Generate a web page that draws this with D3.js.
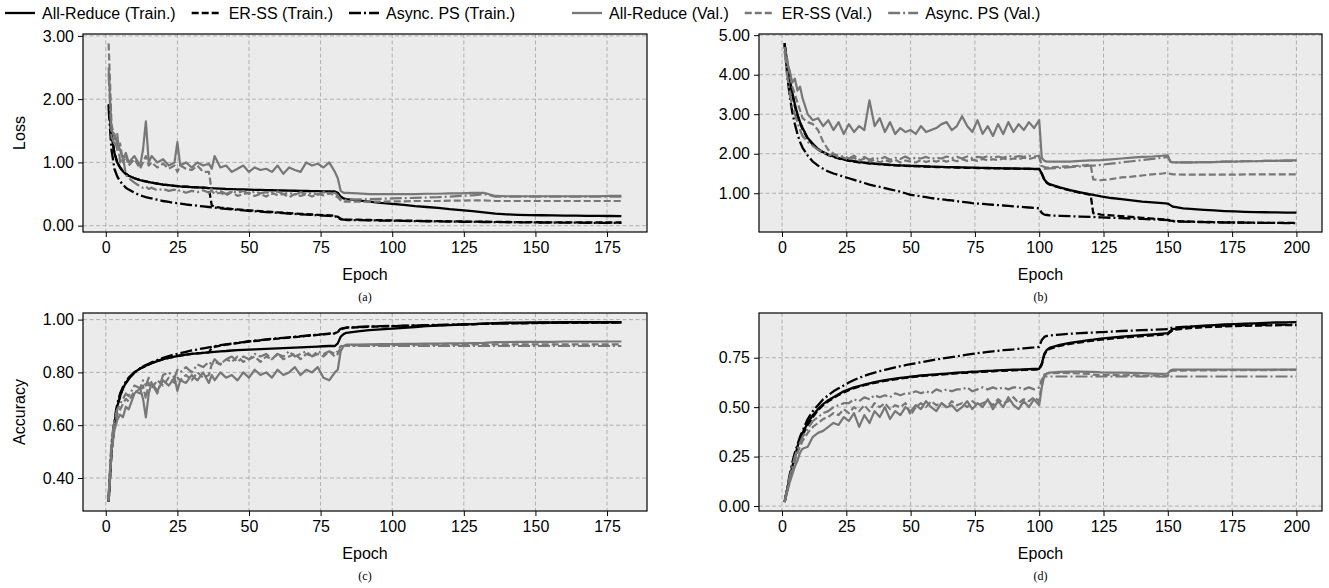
<!DOCTYPE html>
<html><head><meta charset="utf-8">
<script src="https://cdn.jsdelivr.net/npm/d3@7"></script>
<style>body{margin:0;background:#fff}svg{display:block}text{font-family:"Liberation Sans",Arial,sans-serif}</style>
</head><body><svg id="c" width="1329" height="588"></svg>
<script>
// ---------- epochs ----------
const EA = [1,2,3,4,5,6,7,8,
 10,12,13,14,15,16,18,20,22,24,25,26,28,30,32,34,36,
 37,38,40,42,44,46,48,50,52,54,56,58,60,62,64,66,68,70,72,74,76,78,80,
 81,82,83,84,
 88,92,96,100,104,108,112,116,120,124,128,132,
 136,140,144,148,152,156,160,164,168,172,176,180];
const EB = [1,2,3,4,5,6,7,8,
 10,12,14,16,18,20,22,24,26,28,30,32,34,36,38,40,
 42,44,46,48,50,52,54,56,58,60,62,64,66,68,70,
 72,74,76,78,80,82,84,86,88,90,92,94,96,98,100,
 101,102,103,104,108,112,116,120,121,
 124,128,132,136,140,144,148,150,151,152,
 156,160,164,168,172,176,180,184,188,192,196,200];

// ---------- (a) loss, 180 epochs ----------
const aTrainAR = [1.92,1.45,1.15,1.0,0.92,0.86,0.82,0.79,
 0.75,0.72,0.71,0.70,0.69,0.68,0.665,0.65,0.64,0.63,0.625,0.62,0.615,0.61,0.605,0.60,0.595,
 0.593,0.59,0.585,0.58,0.578,0.575,0.572,0.57,0.567,0.565,0.562,0.56,0.558,0.556,0.554,0.552,0.55,0.548,0.546,0.545,0.543,0.542,0.54,
 0.52,0.46,0.43,0.42,
 0.40,0.38,0.36,0.345,0.33,0.31,0.295,0.28,0.26,0.245,0.23,0.21,
 0.19,0.178,0.172,0.168,0.165,0.162,0.16,0.158,0.156,0.155,0.153,0.152];
const aTrainER = [1.9,1.45,1.15,1.0,0.92,0.86,0.82,0.79,
 0.75,0.72,0.71,0.70,0.69,0.68,0.665,0.65,0.64,0.63,0.625,0.62,0.615,0.61,0.605,0.60,0.595,
 0.32,0.3,0.285,0.275,0.265,0.258,0.25,0.243,0.236,0.23,0.222,0.217,0.21,0.204,0.197,0.192,0.187,0.182,0.177,0.172,0.167,0.162,0.157,
 0.14,0.11,0.1,0.098,
 0.095,0.09,0.086,0.083,0.08,0.077,0.074,0.072,0.069,0.066,0.064,0.062,
 0.06,0.058,0.057,0.055,0.054,0.053,0.052,0.051,0.05,0.05,0.05,0.05];
const aTrainPS = [1.85,1.2,0.9,0.78,0.7,0.65,0.6,0.57,
 0.52,0.48,0.465,0.45,0.44,0.43,0.41,0.39,0.375,0.36,0.355,0.35,0.335,0.325,0.315,0.305,0.295,
 0.29,0.285,0.275,0.265,0.257,0.25,0.243,0.235,0.228,0.222,0.215,0.21,0.203,0.197,0.19,0.185,0.18,0.175,0.17,0.165,0.16,0.155,0.15,
 0.13,0.1,0.095,0.09,
 0.088,0.085,0.08,0.078,0.075,0.072,0.07,0.068,0.065,0.062,0.06,0.058,
 0.056,0.055,0.053,0.052,0.05,0.05,0.048,0.047,0.046,0.045,0.045,0.045];
const aValAR = [2.5,1.5,1.45,1.3,1.2,1.05,1.15,1.0,
 1.1,0.95,1.2,1.65,1.0,1.1,1.0,1.05,0.95,1.0,1.32,0.95,1.0,0.92,1.0,0.95,0.98,
 0.9,1.1,0.92,0.95,0.85,0.9,0.95,0.85,0.92,0.88,0.9,0.85,0.95,0.82,0.92,0.88,0.85,1.0,0.95,0.98,0.92,1.0,0.85,
 0.75,0.55,0.52,0.52,
 0.51,0.5,0.5,0.5,0.5,0.5,0.505,0.505,0.51,0.51,0.52,0.52,
 0.47,0.465,0.465,0.465,0.465,0.465,0.465,0.465,0.465,0.465,0.47,0.47];
const aValER = [2.88,1.6,1.4,1.2,1.3,1.0,1.1,0.95,
 1.05,0.9,1.0,1.1,0.95,1.0,0.92,0.98,0.9,0.95,0.85,0.95,0.9,0.88,0.95,0.85,0.85,
 0.55,0.5,0.52,0.48,0.53,0.47,0.5,0.52,0.47,0.5,0.46,0.52,0.48,0.5,0.45,0.5,0.47,0.5,0.46,0.5,0.48,0.52,0.47,
 0.45,0.4,0.38,0.38,
 0.38,0.38,0.38,0.385,0.385,0.39,0.39,0.39,0.395,0.395,0.4,0.4,
 0.39,0.39,0.39,0.39,0.39,0.39,0.39,0.39,0.39,0.39,0.39,0.39];
const aValPS = [2.4,1.4,1.3,1.45,1.0,1.1,0.8,0.75,
 0.68,0.62,0.6,0.62,0.58,0.6,0.56,0.58,0.55,0.57,0.54,0.56,0.52,0.55,0.53,0.56,0.52,
 0.55,0.53,0.55,0.5,0.54,0.52,0.55,0.5,0.54,0.51,0.53,0.5,0.54,0.5,0.52,0.49,0.53,0.5,0.52,0.49,0.53,0.5,0.52,
 0.48,0.42,0.41,0.41,
 0.415,0.42,0.425,0.43,0.435,0.44,0.445,0.45,0.46,0.47,0.48,0.5,
 0.46,0.46,0.46,0.46,0.46,0.46,0.46,0.46,0.46,0.46,0.46,0.46];

// ---------- (b) loss, 200 epochs ----------
const bTrainAR = [4.8,4.3,3.9,3.55,3.25,3.0,2.8,2.65,
 2.4,2.25,2.12,2.04,1.98,1.93,1.89,1.86,1.83,1.81,1.79,1.775,1.76,1.75,1.74,1.73,
 1.72,1.71,1.705,1.7,1.695,1.69,1.685,1.68,1.675,1.67,1.667,1.664,1.66,1.657,1.654,
 1.65,1.648,1.645,1.642,1.64,1.637,1.634,1.632,1.63,1.627,1.625,1.622,1.62,1.617,1.615,
 1.5,1.35,1.27,1.23,1.15,1.08,1.02,0.97,0.96,
 0.92,0.88,0.85,0.82,0.79,0.77,0.75,0.74,0.7,0.66,
 0.62,0.6,0.58,0.565,0.55,0.54,0.53,0.525,0.52,0.515,0.51,0.51];
const bTrainER = [4.75,4.25,3.85,3.5,3.2,2.95,2.77,2.62,
 2.38,2.23,2.11,2.03,1.97,1.92,1.88,1.85,1.82,1.8,1.785,1.77,1.755,1.745,1.735,1.725,
 1.715,1.705,1.7,1.695,1.69,1.685,1.68,1.675,1.67,1.665,1.662,1.659,1.655,1.652,1.649,
 1.645,1.643,1.64,1.637,1.635,1.632,1.629,1.627,1.625,1.622,1.62,1.617,1.615,1.612,1.61,
 1.49,1.34,1.26,1.22,1.14,1.07,1.01,0.96,0.5,
 0.46,0.44,0.42,0.4,0.38,0.36,0.34,0.33,0.31,0.3,
 0.29,0.28,0.275,0.27,0.265,0.26,0.26,0.255,0.25,0.25,0.25,0.25];
const bTrainPS = [4.8,4.0,3.45,3.05,2.75,2.5,2.3,2.15,
 1.95,1.8,1.7,1.62,1.55,1.5,1.46,1.42,1.38,1.34,1.3,1.26,1.22,1.19,1.16,1.13,
 1.1,1.07,1.04,1.0,0.96,0.94,0.92,0.9,0.88,0.86,0.85,0.83,0.82,0.8,0.78,
 0.77,0.75,0.74,0.73,0.72,0.71,0.7,0.69,0.68,0.67,0.66,0.65,0.64,0.63,0.62,
 0.5,0.46,0.45,0.44,0.43,0.42,0.41,0.4,0.4,
 0.39,0.38,0.37,0.36,0.35,0.34,0.33,0.32,0.3,0.29,
 0.28,0.275,0.27,0.265,0.26,0.26,0.255,0.25,0.25,0.25,0.245,0.245];
const bValAR = [4.6,4.3,4.1,3.8,3.9,3.6,3.7,3.4,
 3.0,2.85,2.9,2.7,2.85,2.6,2.8,2.5,2.75,2.55,2.7,2.6,3.35,2.7,2.9,2.55,
 2.8,2.5,2.65,2.55,2.6,2.5,2.7,2.55,2.6,2.65,2.75,2.8,2.6,2.7,2.95,
 2.7,2.55,2.85,2.5,2.7,2.45,2.75,2.5,2.8,2.55,2.75,2.6,2.8,2.65,2.85,
 1.9,1.82,1.8,1.8,1.8,1.8,1.82,1.83,1.83,
 1.84,1.86,1.88,1.9,1.92,1.93,1.95,1.96,1.8,1.78,
 1.78,1.78,1.79,1.79,1.8,1.8,1.81,1.81,1.82,1.82,1.83,1.83];
const bValER = [4.7,4.4,4.0,3.7,3.5,3.3,3.1,2.9,
 2.8,2.75,2.6,2.3,2.1,2.0,1.95,1.9,1.85,1.9,1.82,1.88,1.8,1.85,1.78,1.84,
 1.8,1.85,1.78,1.83,1.8,1.78,1.84,1.79,1.83,1.8,1.84,1.8,1.85,1.81,1.86,
 1.82,1.85,1.82,1.87,1.83,1.86,1.84,1.88,1.85,1.88,1.86,1.9,1.87,1.9,1.92,
 1.7,1.66,1.65,1.65,1.67,1.68,1.7,1.72,1.35,
 1.33,1.36,1.4,1.42,1.45,1.48,1.5,1.52,1.49,1.48,
 1.47,1.47,1.47,1.47,1.47,1.47,1.48,1.48,1.48,1.48,1.48,1.48];
const bValPS = [4.6,4.0,3.5,3.2,3.0,2.8,2.6,2.45,
 2.3,2.2,2.1,2.05,1.95,2.0,1.9,1.95,1.88,1.95,1.85,1.92,1.85,1.9,1.86,1.92,
 1.85,1.9,1.87,1.93,1.86,1.9,1.88,1.92,1.87,1.9,1.88,1.93,1.89,1.92,1.88,
 1.93,1.89,1.92,1.9,1.94,1.9,1.93,1.9,1.95,1.91,1.94,1.92,1.95,1.93,1.95,
 1.65,1.62,1.62,1.63,1.64,1.66,1.68,1.7,1.7,
 1.72,1.75,1.78,1.81,1.84,1.87,1.9,1.92,1.8,1.78,
 1.78,1.78,1.79,1.79,1.8,1.8,1.81,1.81,1.82,1.82,1.82,1.82];

// ---------- (c) accuracy, 180 epochs ----------
const cTrainAR = [0.31,0.5,0.6,0.67,0.71,0.74,0.76,0.775,
 0.8,0.815,0.82,0.825,0.83,0.835,0.843,0.85,0.855,0.86,0.862,0.864,0.867,0.87,0.872,0.874,0.876,
 0.877,0.878,0.88,0.881,0.883,0.884,0.885,0.886,0.887,0.888,0.889,0.89,0.891,0.892,0.893,0.894,0.895,0.896,0.897,0.898,0.899,0.9,0.9,
 0.91,0.935,0.945,0.95,
 0.955,0.96,0.963,0.966,0.969,0.972,0.975,0.977,0.979,0.981,0.983,0.985,
 0.987,0.988,0.988,0.989,0.989,0.989,0.99,0.99,0.99,0.99,0.99,0.99];
const cTrainER = [0.31,0.5,0.6,0.67,0.71,0.74,0.76,0.775,
 0.8,0.815,0.82,0.825,0.83,0.835,0.843,0.85,0.855,0.86,0.862,0.864,0.867,0.87,0.872,0.874,0.876,
 0.893,0.897,0.901,0.905,0.908,0.911,0.914,0.917,0.919,0.921,0.924,0.926,0.928,0.93,0.932,0.934,0.936,0.938,0.94,0.942,0.944,0.946,0.948,
 0.953,0.963,0.967,0.969,
 0.971,0.973,0.974,0.975,0.976,0.977,0.978,0.979,0.98,0.981,0.982,0.984,
 0.985,0.986,0.986,0.987,0.987,0.988,0.988,0.988,0.989,0.989,0.989,0.989];
const cTrainPS = [0.33,0.52,0.62,0.68,0.72,0.745,0.765,0.78,
 0.8,0.815,0.822,0.828,0.833,0.838,0.847,0.855,0.862,0.868,0.87,0.873,0.878,0.883,0.887,0.891,0.895,
 0.897,0.899,0.903,0.906,0.909,0.912,0.915,0.918,0.92,0.922,0.925,0.927,0.929,0.931,0.933,0.935,0.937,0.939,0.941,0.943,0.945,0.947,0.949,
 0.955,0.965,0.968,0.97,
 0.972,0.974,0.975,0.976,0.977,0.978,0.979,0.98,0.981,0.982,0.983,0.984,
 0.985,0.986,0.987,0.987,0.988,0.988,0.989,0.989,0.99,0.99,0.99,0.99];
const cValAR = [0.31,0.5,0.58,0.62,0.64,0.63,0.67,0.66,
 0.72,0.74,0.7,0.63,0.72,0.76,0.73,0.77,0.75,0.78,0.73,0.77,0.76,0.79,0.77,0.8,0.76,
 0.79,0.77,0.8,0.78,0.79,0.77,0.8,0.78,0.81,0.79,0.8,0.78,0.81,0.79,0.8,0.82,0.79,0.81,0.8,0.82,0.78,0.77,0.8,
 0.81,0.88,0.9,0.905,
 0.905,0.906,0.907,0.907,0.908,0.908,0.909,0.909,0.91,0.91,0.911,0.912,
 0.915,0.915,0.916,0.916,0.916,0.916,0.917,0.917,0.917,0.917,0.917,0.917];
const cValER = [0.32,0.52,0.6,0.64,0.66,0.68,0.7,0.69,
 0.73,0.72,0.75,0.7,0.76,0.74,0.77,0.75,0.78,0.76,0.78,0.77,0.79,0.77,0.8,0.78,0.79,
 0.83,0.84,0.83,0.85,0.84,0.86,0.84,0.85,0.86,0.84,0.86,0.85,0.87,0.85,0.86,0.87,0.85,0.87,0.86,0.87,0.86,0.88,0.86,
 0.87,0.895,0.9,0.902,
 0.903,0.903,0.904,0.904,0.904,0.905,0.905,0.905,0.905,0.905,0.906,0.906,
 0.906,0.906,0.906,0.906,0.906,0.906,0.906,0.906,0.906,0.906,0.906,0.906];
const cValPS = [0.33,0.54,0.62,0.66,0.68,0.7,0.72,0.71,
 0.75,0.74,0.77,0.75,0.78,0.76,0.72,0.79,0.8,0.78,0.81,0.8,0.82,0.8,0.83,0.82,0.84,
 0.83,0.85,0.83,0.85,0.86,0.84,0.86,0.85,0.87,0.86,0.87,0.85,0.87,0.86,0.88,0.86,0.87,0.88,0.86,0.88,0.87,0.88,0.87,
 0.88,0.9,0.9,0.9,
 0.9,0.9,0.9,0.9,0.9,0.9,0.9,0.9,0.9,0.9,0.9,0.9,
 0.9,0.9,0.9,0.9,0.9,0.9,0.9,0.9,0.9,0.9,0.9,0.9];

// ---------- (d) accuracy, 200 epochs ----------
const dTrainAR = [0.02,0.08,0.14,0.2,0.25,0.3,0.34,0.37,
 0.42,0.46,0.49,0.515,0.535,0.55,0.565,0.58,0.59,0.6,0.607,0.614,0.62,0.626,0.631,0.636,
 0.64,0.644,0.648,0.651,0.654,0.657,0.66,0.662,0.664,0.666,0.668,0.67,0.672,0.674,0.676,
 0.677,0.679,0.68,0.682,0.683,0.684,0.686,0.687,0.688,0.689,0.69,0.691,0.692,0.693,0.694,
 0.72,0.77,0.79,0.8,0.815,0.825,0.833,0.84,0.841,
 0.846,0.851,0.856,0.86,0.864,0.868,0.872,0.874,0.885,0.895,
 0.903,0.908,0.912,0.915,0.918,0.92,0.922,0.924,0.926,0.928,0.929,0.93];
const dTrainER = [0.02,0.08,0.14,0.19,0.24,0.29,0.33,0.36,
 0.41,0.45,0.485,0.51,0.53,0.546,0.561,0.575,0.586,0.596,0.604,0.611,0.617,0.623,0.628,0.633,
 0.637,0.641,0.645,0.648,0.651,0.654,0.657,0.659,0.661,0.663,0.665,0.667,0.669,0.671,0.673,
 0.674,0.676,0.677,0.679,0.68,0.681,0.683,0.684,0.685,0.686,0.687,0.688,0.689,0.69,0.691,
 0.715,0.765,0.785,0.795,0.81,0.82,0.828,0.835,0.836,
 0.841,0.846,0.851,0.855,0.859,0.863,0.867,0.869,0.88,0.89,
 0.897,0.901,0.904,0.906,0.908,0.91,0.911,0.912,0.913,0.914,0.915,0.915];
const dTrainPS = [0.02,0.09,0.16,0.22,0.27,0.31,0.35,0.38,
 0.44,0.48,0.51,0.54,0.56,0.58,0.595,0.61,0.625,0.637,0.648,0.658,0.667,0.675,0.682,0.689,
 0.695,0.701,0.707,0.712,0.717,0.722,0.727,0.732,0.737,0.741,0.745,0.749,0.753,0.757,0.761,
 0.765,0.769,0.773,0.776,0.779,0.782,0.785,0.788,0.79,0.792,0.795,0.797,0.8,0.802,0.805,
 0.84,0.855,0.86,0.862,0.867,0.871,0.874,0.877,0.877,
 0.879,0.882,0.885,0.887,0.889,0.891,0.893,0.894,0.9,0.903,
 0.906,0.908,0.91,0.911,0.912,0.913,0.914,0.915,0.916,0.916,0.917,0.917];
const dValAR = [0.02,0.07,0.12,0.16,0.2,0.23,0.27,0.29,
 0.3,0.35,0.37,0.38,0.4,0.42,0.41,0.45,0.43,0.47,0.4,0.46,0.42,0.48,0.45,0.5,
 0.44,0.48,0.46,0.5,0.48,0.51,0.49,0.53,0.5,0.48,0.52,0.5,0.51,0.48,0.5,
 0.53,0.49,0.52,0.5,0.54,0.49,0.53,0.5,0.55,0.51,0.49,0.53,0.5,0.54,0.51,
 0.6,0.66,0.67,0.675,0.678,0.68,0.68,0.678,0.678,
 0.676,0.675,0.675,0.673,0.672,0.67,0.668,0.67,0.685,0.69,
 0.69,0.69,0.69,0.69,0.69,0.69,0.69,0.69,0.69,0.69,0.69,0.69];
const dValER = [0.02,0.08,0.14,0.18,0.23,0.27,0.3,0.33,
 0.37,0.4,0.42,0.44,0.45,0.47,0.46,0.49,0.47,0.5,0.48,0.51,0.48,0.52,0.5,0.52,
 0.49,0.51,0.5,0.52,0.46,0.5,0.52,0.5,0.53,0.51,0.52,0.5,0.53,0.51,0.52,
 0.5,0.53,0.51,0.52,0.53,0.51,0.54,0.52,0.53,0.55,0.52,0.54,0.53,0.55,0.53,
 0.62,0.665,0.67,0.672,0.673,0.672,0.67,0.668,0.664,
 0.662,0.664,0.66,0.662,0.658,0.66,0.656,0.658,0.68,0.685,
 0.685,0.686,0.686,0.686,0.687,0.687,0.687,0.687,0.687,0.688,0.688,0.688];
const dValPS = [0.02,0.09,0.15,0.2,0.25,0.29,0.32,0.35,
 0.39,0.43,0.45,0.47,0.48,0.5,0.51,0.52,0.52,0.54,0.53,0.55,0.54,0.56,0.55,0.56,
 0.55,0.57,0.56,0.57,0.57,0.58,0.57,0.58,0.57,0.59,0.58,0.59,0.58,0.59,0.59,
 0.6,0.58,0.59,0.6,0.59,0.6,0.59,0.6,0.59,0.6,0.6,0.59,0.6,0.59,0.6,
 0.64,0.655,0.655,0.655,0.655,0.655,0.655,0.655,0.655,
 0.655,0.655,0.655,0.655,0.655,0.655,0.655,0.655,0.655,0.655,
 0.655,0.655,0.655,0.655,0.655,0.655,0.655,0.655,0.655,0.655,0.655,0.655];

// ---------- ticks & labels ----------
const xTicksA = [0,25,50,75,100,125,150,175];
const xTicksB = [0,25,50,75,100,125,150,175,200];
const yTicksA = [0,1,2,3];
const yTicksB = [1,2,3,4,5];
const yTicksC = [0.4,0.6,0.8,1.0];
const yTicksD = [0,0.25,0.5,0.75];
const seriesNames = ["All-Reduce (Train.)","ER-SS (Train.)","Async. PS (Train.)","All-Reduce (Val.)","ER-SS (Val.)","Async. PS (Val.)"];

// ---------- styles ----------
const BLACK = "#000", GRAY = "#777777";
const styles = [
  {c:BLACK, w:2.3, d:null},{c:BLACK, w:2.3, d:"7,3"},{c:BLACK, w:2.3, d:"12,3,2,3"},
  {c:GRAY, w:2.2, d:null},{c:GRAY, w:2.2, d:"7,3"},{c:GRAY, w:2.2, d:"12,3,2,3"}];

const panels = [
 {x0:83,x1:647,y0:34,y1:232, ep:EA, xd:[-7.95,188.95], yd:[-0.1,3.03], xt:xTicksA, yt:yTicksA, ylab:"Loss", cap:"(a)",
  s:[aTrainAR,aTrainER,aTrainPS,aValAR,aValER,aValPS]},
 {x0:759,x1:1322,y0:34,y1:232, ep:EB, xd:[-8.95,209.95], yd:[0.02,5.03], xt:xTicksB, yt:yTicksB, ylab:null, cap:"(b)",
  s:[bTrainAR,bTrainER,bTrainPS,bValAR,bValER,bValPS]},
 {x0:83,x1:647,y0:313,y1:511, ep:EA, xd:[-7.95,188.95], yd:[0.275,1.025], xt:xTicksA, yt:yTicksC, ylab:"Accuracy", cap:"(c)",
  s:[cTrainAR,cTrainER,cTrainPS,cValAR,cValER,cValPS]},
 {x0:759,x1:1322,y0:313,y1:511, ep:EB, xd:[-8.95,209.95], yd:[-0.025,0.976], xt:xTicksB, yt:yTicksD, ylab:null, cap:"(d)",
  s:[dTrainAR,dTrainER,dTrainPS,dValAR,dValER,dValPS]}
];

const svg = d3.select("#c");
const FONT = 16;

panels.forEach(p => {
  const x = d3.scaleLinear().domain(p.xd).range([p.x0, p.x1]);
  const y = d3.scaleLinear().domain(p.yd).range([p.y1, p.y0]);
  const g = svg.append("g");
  g.append("rect").attr("x",p.x0).attr("y",p.y0).attr("width",p.x1-p.x0).attr("height",p.y1-p.y0).attr("fill","#ebebeb");
  g.selectAll(".gx").data(p.xt).enter().append("line")
    .attr("x1",d=>x(d)).attr("x2",d=>x(d)).attr("y1",p.y0).attr("y2",p.y1)
    .attr("stroke","#b0b0b0").attr("stroke-width",1).attr("stroke-dasharray","4,2.5");
  g.selectAll(".gy").data(p.yt).enter().append("line")
    .attr("x1",p.x0).attr("x2",p.x1).attr("y1",d=>y(d)).attr("y2",d=>y(d))
    .attr("stroke","#b0b0b0").attr("stroke-width",1).attr("stroke-dasharray","4,2.5");
  const line = d3.line().x(d=>x(d[0])).y(d=>y(d[1]));
  p.s.forEach((vals,i) => {
    const pts = p.ep.map((e,k)=>[e, vals[k]]).filter(d=>d[1]!=null);
    g.append("path").datum(pts).attr("d",line).attr("fill","none")
      .attr("stroke",styles[i].c).attr("stroke-width",styles[i].w)
      .attr("stroke-dasharray",styles[i].d).attr("stroke-linejoin","round");
  });
  g.append("rect").attr("x",p.x0).attr("y",p.y0).attr("width",p.x1-p.x0).attr("height",p.y1-p.y0)
    .attr("fill","none").attr("stroke","#000").attr("stroke-width",1.2);
  const ax = g.append("g").attr("transform",`translate(0,${p.y1})`)
    .call(d3.axisBottom(x).tickValues(p.xt).tickSize(5).tickPadding(5).tickFormat(d3.format("d")));
  const ay = g.append("g").attr("transform",`translate(${p.x0},0)`)
    .call(d3.axisLeft(y).tickValues(p.yt).tickSize(5).tickPadding(4).tickFormat(d3.format(".2f")));
  [ax,ay].forEach(a=>{
    a.select(".domain").remove();
    a.selectAll("line").attr("stroke","#000").attr("stroke-width",1);
    a.selectAll("text").attr("font-size",FONT).attr("fill","#000").attr("font-family","Liberation Sans, Arial, sans-serif");
  });
  const cx = (p.x0+p.x1)/2;
  g.append("text").attr("x",cx).attr("y",p.y1+48).attr("text-anchor","middle").attr("font-size",16).text("Epoch");
  g.append("text").attr("x",cx).attr("y",p.y1+69).attr("text-anchor","middle").attr("font-size",12)
    .style("font-family","'Liberation Serif', 'Times New Roman', serif").text(p.cap);
  if (p.ylab) {
    g.append("text").attr("transform",`translate(25,${(p.y0+p.y1)/2}) rotate(-90)`)
      .attr("text-anchor","middle").attr("font-size",16).text(p.ylab);
  }
});

// legend
const legStarts = [5, 572];
const leg = svg.append("g");
[0,1].forEach(grp => {
  let cur = legStarts[grp];
  for (let j=0;j<3;j++){
    const i = grp*3+j;
    leg.append("line").attr("x1",cur).attr("x2",cur+30).attr("y1",13).attr("y2",13)
      .attr("stroke",styles[i].c).attr("stroke-width",2.3).attr("stroke-dasharray",styles[i].d);
    const t = leg.append("text").attr("x",cur+37).attr("y",18.5).attr("font-size",FONT).text(seriesNames[i]);
    cur += 37 + t.node().getComputedTextLength() + 16;
  }
});
</script></body></html>
